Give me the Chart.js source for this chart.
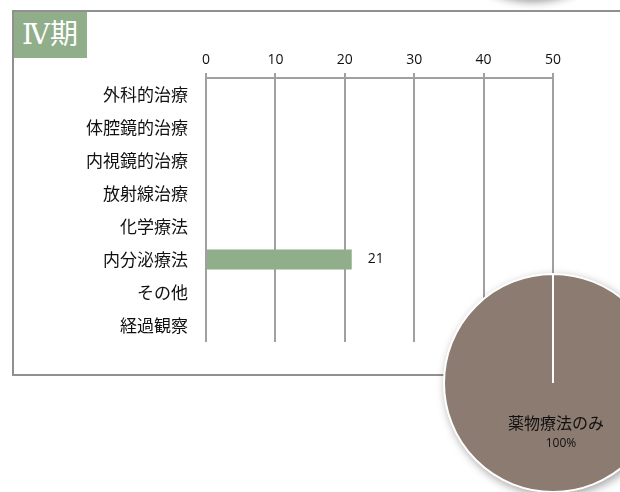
<!DOCTYPE html>
<html lang="ja">
<head>
<meta charset="utf-8">
<script src="https://cdn.jsdelivr.net/npm/chart.js@4"></script>
<style>
  html, body { margin: 0; padding: 0; width: 620px; height: 492px; overflow: hidden; background: #fff; }
  #topShadow { position: absolute; left: 433px; top: -200px; width: 200px; height: 200px; border-radius: 50%; background: #fff; box-shadow: 0 2px 8px rgba(0,0,0,0.4); }
  #frame { position: absolute; left: 12px; top: 10px; width: 640px; height: 366px; box-sizing: border-box; border: 2px solid #909090; }
  #badge { position: absolute; left: 14px; top: 12px; width: 73px; height: 46px; box-sizing: border-box; padding-left: 8px; background: #8fae89; color: #fff; font: 28px "DejaVu Serif", "Noto Sans CJK JP", serif; line-height: 46px; white-space: nowrap; }
  #barChart { position: absolute; left: 0; top: 0; }
  #pieChart { position: absolute; left: 433px; top: 263px; filter: drop-shadow(2px 3px 4px rgba(0,0,0,0.35)); }
</style>
</head>
<body>
<div id="topShadow"></div>
<div id="frame"></div>
<div id="badge">Ⅳ期</div>
<canvas id="barChart" width="620" height="380"></canvas>
<canvas id="pieChart" width="240" height="240"></canvas>
<script>
// 治療法ごとの件数（Ⅳ期）
var categories = ['外科的治療', '体腔鏡的治療', '内視鏡的治療', '放射線治療', '化学療法', '内分泌療法', 'その他', '経過観察'];
var counts = [null, null, null, null, null, 21, null, null];

// 横軸の目盛り
var axisMin = 0;
var axisMax = 50;
var axisStep = 10;

// 円グラフ
var pieLabels = ['薬物療法のみ'];
var pieValues = [100];

var textColor = '#111';
var jpFont = '"Noto Sans CJK JP", sans-serif';
var numFont = '"Open Sans", sans-serif';

// 棒の右に件数を表示する
var barValueLabels = {
  id: 'barValueLabels',
  afterDatasetsDraw: function(chart) {
    var ctx = chart.ctx;
    var meta = chart.getDatasetMeta(0);
    ctx.save();
    ctx.font = '14px ' + numFont;
    ctx.fillStyle = textColor;
    ctx.textBaseline = 'middle';
    meta.data.forEach(function(bar, i) {
      if (counts[i] == null) return;
      ctx.fillText(String(counts[i]), bar.x + 16, bar.y);
    });
    ctx.restore();
  }
};

new Chart(document.getElementById('barChart'), {
  type: 'bar',
  data: {
    labels: categories,
    datasets: [{
      data: counts,
      backgroundColor: '#8fae89',
      barPercentage: 0.6,
      categoryPercentage: 1.0
    }]
  },
  options: {
    indexAxis: 'y',
    responsive: false,
    animation: false,
    layout: { padding: { top: 0, left: 0, right: 67, bottom: 38 } },
    plugins: { legend: { display: false }, tooltip: { enabled: false } },
    scales: {
      x: {
        position: 'top',
        min: axisMin,
        max: axisMax,
        ticks: { stepSize: axisStep, color: textColor, font: { family: numFont, size: 14 }, padding: 5 },
        grid: { color: '#a0a0a0', lineWidth: 2, tickLength: 5 },
        border: { color: '#a0a0a0', width: 2 },
        afterFit: function(scale) { scale.height = 78; }
      },
      y: {
        grid: { display: false, drawTicks: false },
        border: { display: false },
        ticks: { color: textColor, font: { family: jpFont, size: 17 }, padding: 18 },
        afterFit: function(scale) { scale.width = 206; }
      }
    }
  },
  plugins: [barValueLabels]
});

// 円グラフの区切り線とラベル
var pieDecor = {
  id: 'pieDecor',
  afterDatasetsDraw: function(chart) {
    var ctx = chart.ctx;
    var arc = chart.getDatasetMeta(0).data[0];
    var total = pieValues.reduce(function(a, b) { return a + b; }, 0);
    ctx.save();
    ctx.strokeStyle = '#fff';
    ctx.lineWidth = 2;
    ctx.beginPath();
    ctx.moveTo(arc.x, arc.y);
    ctx.lineTo(arc.x, arc.y - arc.outerRadius);
    ctx.stroke();
    ctx.fillStyle = textColor;
    ctx.textAlign = 'center';
    ctx.textBaseline = 'middle';
    ctx.font = '16px ' + jpFont;
    ctx.fillText(pieLabels[0], arc.x + 3, arc.y + arc.outerRadius * 0.37);
    ctx.font = '12px ' + numFont;
    ctx.fillText(Math.round(pieValues[0] / total * 100) + '%', arc.x + 8, arc.y + arc.outerRadius * 0.56);
    ctx.restore();
  }
};

new Chart(document.getElementById('pieChart'), {
  type: 'pie',
  data: {
    labels: pieLabels,
    datasets: [{
      data: pieValues,
      backgroundColor: '#8b7b70',
      borderColor: '#fff',
      borderWidth: 2
    }]
  },
  options: {
    responsive: false,
    animation: false,
    layout: { padding: 10 },
    plugins: { legend: { display: false }, tooltip: { enabled: false } }
  },
  plugins: [pieDecor]
});
</script>
</body>
</html>
